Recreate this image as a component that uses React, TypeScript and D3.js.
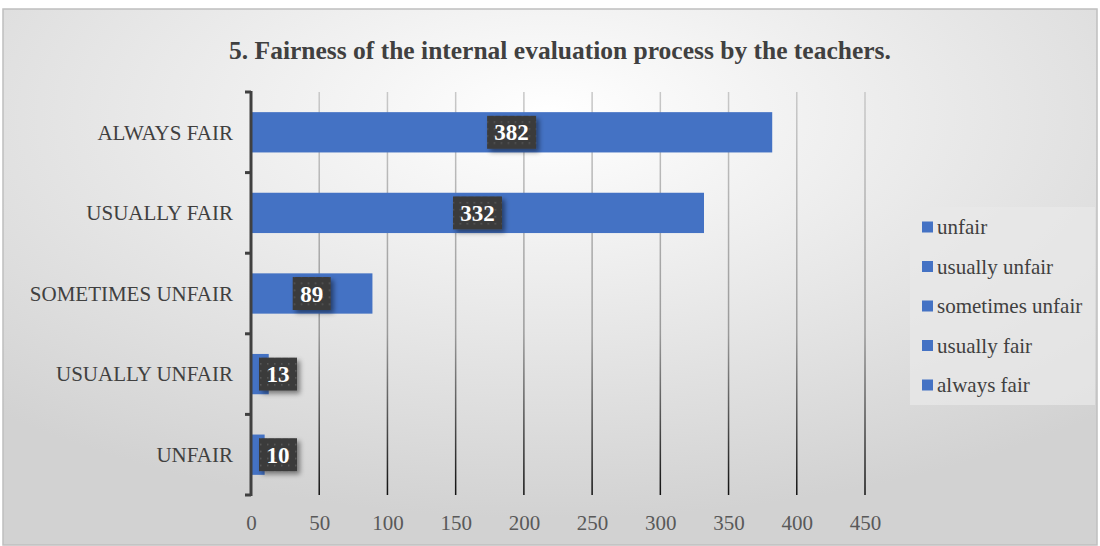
import React, { useEffect, useRef } from 'react';
import * as d3 from 'd3';

const categories = ['ALWAYS FAIR', 'USUALLY FAIR', 'SOMETIMES UNFAIR', 'USUALLY UNFAIR', 'UNFAIR'];
const values = [382, 332, 89, 13, 10];
const legendLabels = ['unfair', 'usually unfair', 'sometimes unfair', 'usually fair', 'always fair'];
const xTicks = [0, 50, 100, 150, 200, 250, 300, 350, 400, 450];

const W = 1100;
const H = 546;
const BAR = '#4472C4';
const SERIF = '"Liberation Serif", "Times New Roman", serif';

export default function App() {
  const ref = useRef<SVGSVGElement>(null);

  useEffect(() => {
    const svg = d3.select(ref.current);
    svg.selectAll('*').remove();

    const left = 251, right = 865, top = 92, bottom = 495;

    const defs = svg.append('defs');
    const bg = defs.append('radialGradient').attr('id', 'bg')
      .attr('cx', '50%').attr('cy', '20%').attr('r', '75%');
    bg.append('stop').attr('offset', '0%').attr('stop-color', '#ffffff');
    bg.append('stop').attr('offset', '100%').attr('stop-color', '#d2d2d2');

    const gridGrad = defs.append('linearGradient').attr('id', 'gridGrad')
      .attr('gradientUnits', 'userSpaceOnUse')
      .attr('x1', 0).attr('y1', top).attr('x2', 0).attr('y2', bottom);
    gridGrad.append('stop').attr('offset', '0%').attr('stop-color', '#c8c8c8');
    gridGrad.append('stop').attr('offset', '60%').attr('stop-color', '#999');
    gridGrad.append('stop').attr('offset', '100%').attr('stop-color', '#111');

    const pat = defs.append('pattern').attr('id', 'dots')
      .attr('patternUnits', 'userSpaceOnUse').attr('width', 7).attr('height', 7);
    pat.append('rect').attr('width', 7).attr('height', 7).attr('fill', '#3b3b3b');
    pat.append('rect').attr('x', 3).attr('y', 3).attr('width', 1.5).attr('height', 1.5).attr('fill', '#5a5a5a');

    const sh = defs.append('filter').attr('id', 'shadow')
      .attr('x', '-30%').attr('y', '-30%').attr('width', '170%').attr('height', '170%');
    sh.append('feDropShadow').attr('dx', 3).attr('dy', 3).attr('stdDeviation', 2.5)
      .attr('flood-color', '#000').attr('flood-opacity', 0.45);

    // background
    svg.append('rect').attr('x', 3).attr('y', 9).attr('width', W - 6).attr('height', H - 10)
      .attr('fill', 'url(#bg)').attr('stroke', '#bfbfbf').attr('stroke-width', 1.5);

    // title
    svg.append('text').attr('x', 560).attr('y', 59).attr('text-anchor', 'middle')
      .attr('font-family', SERIF).attr('font-weight', 'bold').attr('font-size', 25.5)
      .attr('fill', '#404040')
      .text('5. Fairness of the internal evaluation process by the teachers.');

    const x = d3.scaleLinear().domain([0, 450]).range([left, right]);
    const y = d3.scaleBand().domain(categories).range([top, bottom]).paddingInner(0.5).paddingOuter(0.25);

    // grid
    svg.append('g').selectAll('line').data(xTicks.slice(1)).enter().append('line')
      .attr('x1', d => x(d)).attr('x2', d => x(d))
      .attr('y1', top).attr('y2', bottom)
      .attr('stroke', 'url(#gridGrad)').attr('stroke-width', 1.5);

    // x tick labels
    const xAxis = svg.append('g').attr('transform', `translate(0,${bottom})`)
      .call(d3.axisBottom(x).tickValues(xTicks).tickSize(0).tickPadding(20));
    xAxis.select('.domain').remove();
    xAxis.selectAll('text').attr('font-family', SERIF).attr('font-size', 21).attr('fill', '#595959');

    // bars
    svg.append('g').selectAll('rect').data(values).enter().append('rect')
      .attr('x', x(0)).attr('y', (d, i) => y(categories[i])!)
      .attr('width', d => x(d) - x(0)).attr('height', y.bandwidth())
      .attr('fill', BAR);

    // y axis
    const step = y.step();
    const yAxis = svg.append('g');
    yAxis.append('line').attr('x1', left).attr('x2', left).attr('y1', top - 1).attr('y2', bottom + 1)
      .attr('stroke', '#404040').attr('stroke-width', 3);
    yAxis.selectAll('.tk').data(d3.range(categories.length + 1)).enter().append('line')
      .attr('x1', left - 6).attr('x2', left)
      .attr('y1', i => top + i * step).attr('y2', i => top + i * step)
      .attr('stroke', '#404040').attr('stroke-width', 3);
    yAxis.selectAll('text').data(categories).enter().append('text')
      .attr('x', 233).attr('y', d => y(d)! + y.bandwidth() / 2)
      .attr('dy', '0.35em').attr('text-anchor', 'end')
      .attr('font-family', SERIF).attr('font-size', 21).attr('fill', '#404040')
      .text(d => d);

    // data labels
    const bh = 33;
    const boxW = (d: number) => 16 + 11 * String(d).length;
    const lbl = svg.append('g').selectAll('g').data(values).enter().append('g')
      .attr('transform', (d, i) => {
        const cx = Math.max((x(0) + x(d)) / 2, x(0) + 8 + boxW(d) / 2);
        const cy = y(categories[i])! + y.bandwidth() / 2;
        return `translate(${cx},${cy})`;
      });
    lbl.append('rect').attr('x', d => -boxW(d) / 2).attr('y', -bh / 2)
      .attr('width', d => boxW(d)).attr('height', bh)
      .attr('fill', 'url(#dots)').attr('filter', 'url(#shadow)');
    lbl.append('text').attr('text-anchor', 'middle').attr('dy', '0.35em')
      .attr('font-family', SERIF).attr('font-weight', 'bold').attr('font-size', 23)
      .attr('fill', '#fff').text(d => d);

    // legend
    const legend = svg.append('g');
    legend.append('rect').attr('x', 910).attr('y', 207).attr('width', 185).attr('height', 198)
      .attr('fill', '#e8e8e8').attr('opacity', 0.75);
    const item = legend.selectAll('g').data(legendLabels).enter().append('g')
      .attr('transform', (d, i) => `translate(922,${227 + i * 39.5})`);
    item.append('rect').attr('x', 0).attr('y', -5.5).attr('width', 11).attr('height', 11).attr('fill', BAR);
    item.append('text').attr('x', 15).attr('dy', '0.35em')
      .attr('font-family', SERIF).attr('font-size', 21).attr('fill', '#404040').text(d => d);
  }, []);

  return (
    <svg ref={ref} width={W} height={H} viewBox={`0 0 ${W} ${H}`}
      style={{ position: 'absolute', left: 0, top: 0 }} />
  );
}
